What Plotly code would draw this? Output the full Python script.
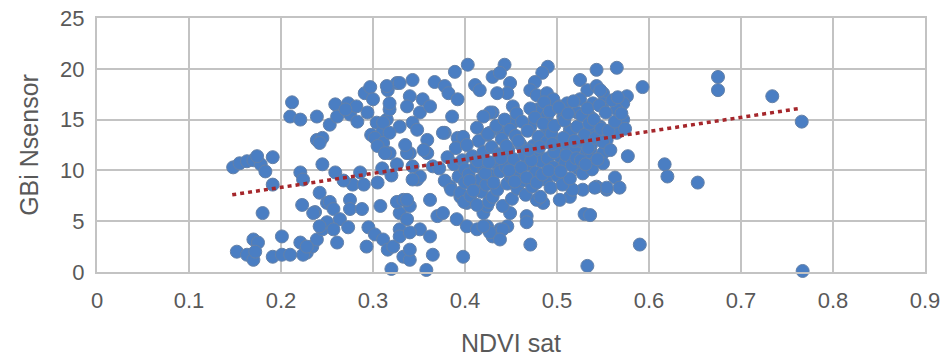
import plotly.graph_objects as go

# ---- data ----
ndvi_sat = [
    # left group
    0.148, 0.155, 0.163, 0.170, 0.178, 0.183, 0.174, 0.191, 0.191, 0.180,
    0.152, 0.163, 0.170, 0.170, 0.175, 0.172, 0.191, 0.201, 0.201, 0.210,
    # 0.2 - 0.3
    0.221, 0.224, 0.223, 0.237, 0.242, 0.245, 0.239, 0.221, 0.228, 0.234,
    0.239, 0.245, 0.250, 0.250, 0.212, 0.210, 0.221, 0.239, 0.245, 0.253,
    0.259, 0.261, 0.273, 0.275, 0.282, 0.291, 0.297, 0.300, 0.242, 0.259,
    0.278, 0.253, 0.224, 0.235, 0.257, 0.275, 0.275, 0.288, 0.264, 0.242,
    0.257, 0.273, 0.261, 0.228, 0.295, 0.293, 0.268, 0.290, 0.283, 0.294,
    0.298, 0.270, 0.286,
    # 0.3 - 0.37
    0.304, 0.310, 0.315, 0.302, 0.311, 0.316, 0.326, 0.318, 0.318, 0.308,
    0.302, 0.311, 0.316, 0.322, 0.320, 0.333, 0.340, 0.329, 0.337, 0.340,
    0.326, 0.333, 0.329, 0.329, 0.305, 0.305, 0.313, 0.326, 0.340, 0.343,
    0.348, 0.315, 0.329, 0.343, 0.367, 0.340, 0.354, 0.318, 0.337, 0.351,
    0.362, 0.311, 0.329, 0.343, 0.348, 0.318, 0.359, 0.337, 0.359, 0.351,
    0.362, 0.337, 0.370, 0.351, 0.340, 0.362, 0.340, 0.365, 0.358, 0.335,
    0.365, 0.355, 0.320, 0.310,
    # 0.37 - 0.45 upper
    0.403, 0.389, 0.378, 0.382, 0.392, 0.386, 0.378, 0.411, 0.416, 0.430,
    0.430, 0.413, 0.424, 0.392, 0.376, 0.398, 0.443, 0.438, 0.449, 0.446,
    0.435, 0.427, 0.452, 0.452, 0.420, 0.427, 0.441,
    # 0.37 - 0.45 lower
    0.376, 0.343, 0.398, 0.391, 0.402, 0.413, 0.424, 0.430, 0.438, 0.446,
    0.420, 0.449, 0.395, 0.402, 0.384, 0.424, 0.427, 0.441, 0.438, 0.420,
    # 0.46 - 0.6
    0.490, 0.484, 0.476, 0.471, 0.478, 0.489, 0.496, 0.478, 0.489, 0.503,
    0.511, 0.507, 0.543, 0.525, 0.533, 0.543, 0.550, 0.525, 0.539, 0.522,
    0.536, 0.471, 0.489, 0.514, 0.536, 0.547, 0.467, 0.467, 0.471, 0.530,
    0.533, 0.514, 0.528, 0.543, 0.554, 0.539, 0.536, 0.550, 0.485, 0.478,
    0.503, 0.517, 0.565, 0.593, 0.576, 0.572, 0.565, 0.554, 0.577, 0.550,
    0.563, 0.568, 0.554, 0.541, 0.590, 0.536, 0.572, 0.565, 0.547, 0.550,
    # right outliers
    0.617, 0.620, 0.653, 0.675, 0.675, 0.734, 0.766, 0.767,
    # dense core
    0.372, 0.378, 0.381, 0.385, 0.388, 0.390, 0.393, 0.395, 0.397, 0.399,
    0.400, 0.400, 0.402, 0.404, 0.406, 0.408, 0.410, 0.412, 0.413, 0.415,
    0.417, 0.418, 0.420, 0.421, 0.423, 0.425, 0.426, 0.428, 0.429, 0.430,
    0.432, 0.434, 0.435, 0.437, 0.438, 0.440, 0.441, 0.443, 0.444, 0.446,
    0.447, 0.449, 0.450, 0.451, 0.453, 0.455, 0.456, 0.457, 0.459, 0.460,
    0.462, 0.463, 0.465, 0.466, 0.468, 0.470, 0.471, 0.473, 0.474, 0.476,
    0.477, 0.479, 0.480, 0.482, 0.483, 0.485, 0.486, 0.488, 0.489, 0.490,
    0.492, 0.493, 0.494, 0.496, 0.497, 0.499, 0.500, 0.502, 0.503, 0.505,
    0.506, 0.508, 0.509, 0.511, 0.512, 0.514, 0.515, 0.517, 0.518, 0.520,
    0.522, 0.523, 0.525, 0.527, 0.528, 0.530, 0.532, 0.533, 0.535, 0.537,
    0.538, 0.540, 0.542, 0.544, 0.546, 0.548, 0.550, 0.553, 0.556, 0.558,
    0.560, 0.563, 0.566, 0.570, 0.574,
    # extra core fill
    0.405, 0.414, 0.422, 0.431, 0.439, 0.448, 0.454, 0.461, 0.467, 0.472,
    0.478, 0.484, 0.491, 0.497, 0.504, 0.510, 0.516, 0.521, 0.526, 0.531,
    0.445, 0.458, 0.469, 0.481, 0.495, 0.507, 0.519, 0.534, 0.409, 0.426,
]

gbi_nsensor = [
    # left group
    10.3, 10.7, 10.9, 11.0, 10.6, 9.9, 11.4, 11.3, 8.6, 5.8,
    2.0, 1.7, 1.2, 3.2, 2.9, 2.0, 1.5, 1.7, 3.5, 1.7,
    # 0.2 - 0.3
    9.8, 9.1, 6.6, 5.9, 7.8, 10.6, 13.0, 2.9, 1.9, 2.5,
    3.2, 4.2, 4.9, 6.8, 16.7, 15.3, 15.0, 15.3, 13.2, 14.5,
    16.5, 15.3, 16.6, 15.5, 16.3, 17.6, 18.2, 17.0, 12.7, 9.8,
    8.6, 6.9, 1.7, 5.8, 6.2, 7.1, 6.2, 6.2, 5.2, 4.5,
    4.2, 4.4, 2.9, 2.5, 4.4, 2.5, 9.0, 8.6, 14.8, 15.7,
    13.5, 16.0, 9.8,
    # 0.3 - 0.37
    14.7, 13.8, 15.0, 13.2, 12.7, 17.9, 18.6, 11.7, 16.0, 6.5,
    3.7, 3.2, 2.2, 2.5, 0.3, 1.5, 1.2, 5.8, 5.2, 6.5,
    6.9, 7.1, 4.2, 3.5, 8.8, 12.4, 11.7, 10.6, 11.7, 10.4,
    9.1, 18.3, 18.6, 18.9, 18.7, 17.3, 17.0, 16.6, 16.3, 15.7,
    16.3, 14.7, 14.3, 14.7, 14.0, 13.7, 13.0, 11.7, 11.7, 9.4,
    7.1, 7.1, 5.5, 4.2, 3.9, 3.5, 2.2, 1.7, 0.2, 12.5,
    10.4, 12.0, 9.5, 10.2,
    # 0.37 - 0.45 upper
    20.4, 19.7, 18.3, 17.6, 17.0, 15.3, 13.7, 18.4, 17.9, 19.2,
    15.7, 14.2, 13.5, 13.2, 13.7, 13.3, 20.4, 19.6, 18.6, 17.6,
    17.6, 15.7, 16.3, 14.7, 15.3, 13.7, 13.7,
    # 0.37 - 0.45 lower
    5.8, 9.1, 1.5, 5.2, 4.5, 4.2, 4.5, 3.5, 4.2, 4.5,
    5.8, 5.8, 7.4, 6.8, 8.4, 6.5, 3.9, 4.2, 3.2, 4.5,
    # 0.46 - 0.6
    20.2, 19.6, 18.7, 17.9, 17.4, 17.6, 17.0, 16.0, 15.3, 16.3,
    16.6, 15.3, 19.9, 18.9, 17.9, 18.3, 17.6, 17.0, 16.6, 15.7,
    15.3, 14.3, 13.7, 14.0, 14.0, 14.3, 5.5, 4.9, 2.7, 5.7,
    0.6, 7.4, 8.1, 8.4, 8.1, 10.9, 12.0, 11.7, 6.8, 7.1,
    7.1, 8.1, 20.1, 18.2, 17.3, 15.0, 13.7, 13.0, 11.4, 10.7,
    9.3, 8.3, 8.3, 8.3, 2.7, 5.6, 16.6, 16.0, 17.9, 16.6,
    # right outliers
    10.6, 9.4, 8.8, 19.2, 17.9, 17.3, 14.8, 0.1,
    # dense core
    10.2, 9.0, 11.3, 8.1, 10.6, 12.2, 9.4, 7.8, 11.0, 6.9,
    8.8, 10.1, 12.5, 9.6, 7.5, 11.4, 8.3, 10.4, 6.6, 12.9,
    9.1, 7.9, 11.8, 10.0, 8.6, 13.6, 6.9, 9.5, 12.3, 7.4,
    10.8, 14.4, 8.1, 11.6, 9.9, 13.1, 6.5, 15.0, 10.4, 8.7,
    12.0, 14.0, 9.4, 7.2, 11.1, 13.4, 15.6, 8.2, 10.0, 12.6,
    14.8, 9.0, 11.5, 7.6, 13.9, 10.6, 16.1, 8.4, 12.4, 15.2,
    9.8, 11.9, 13.3, 7.4, 10.9, 14.6, 16.7, 9.1, 12.8, 11.2,
    15.8, 8.3, 13.6, 10.3, 14.4, 12.1, 9.5, 16.2, 11.4, 13.0,
    8.6, 14.9, 10.7, 12.6, 15.6, 9.2, 13.8, 11.0, 16.8, 12.3,
    14.3, 10.2, 12.9, 15.4, 9.7, 13.5, 11.7, 16.1, 14.6, 12.5,
    10.1, 15.0, 13.2, 11.1, 16.4, 14.1, 12.8, 15.7, 13.9, 12.0,
    16.9, 14.8, 17.2, 15.6, 14.1,
    # extra core fill
    9.0, 10.9, 9.7, 8.8, 11.2, 10.0, 8.9, 10.3, 9.3, 11.0,
    8.8, 9.6, 10.0, 11.8, 9.9, 11.5, 10.5, 11.2, 11.0, 10.6,
    12.4, 12.9, 12.0, 12.3, 12.6, 13.2, 12.9, 12.2, 8.0, 10.8,
]

trend_x = [0.147, 0.764]
trend_y = [7.6, 16.1]

x_ticks = [0, 0.1, 0.2, 0.3, 0.4, 0.5, 0.6, 0.7, 0.8, 0.9]
y_ticks = [0, 5, 10, 15, 20, 25]

x_title = "NDVI sat"
y_title = "GBi Nsensor"

# ---- figure ----
grid = "#c3c3c3"
txt = "#595959"
font_family = "Liberation Sans, Arial, sans-serif"

fig = go.Figure()
fig.add_trace(go.Scatter(
    x=ndvi_sat, y=gbi_nsensor, mode="markers",
    marker=dict(size=13, color="#4a7ec3", line=dict(width=1, color="#6481a8")),
    cliponaxis=False, showlegend=False,
))
fig.add_trace(go.Scatter(
    x=trend_x, y=trend_y, mode="lines",
    line=dict(color="#a5262b", width=3.5, dash="4px,4px"),
    showlegend=False,
))

fig.update_layout(
    width=942, height=358,
    margin=dict(l=97, r=17, t=18, b=86),
    paper_bgcolor="white", plot_bgcolor="white",
    font=dict(family=font_family, color=txt),
)
fig.update_xaxes(
    range=[0, 0.9], tickvals=x_ticks,
    ticktext=[f"{v:g}" for v in x_ticks],
    showgrid=True, gridcolor=grid, gridwidth=2,
    showline=True, linecolor=grid, linewidth=2, mirror=True,
    zeroline=False, ticks="", ticklabelstandoff=8, automargin=False,
    tickfont=dict(size=22, color=txt),
    title=dict(text=x_title, font=dict(size=25, color=txt), standoff=22),
)
fig.update_yaxes(
    range=[0, 25], tickvals=y_ticks,
    showgrid=True, gridcolor=grid, gridwidth=2,
    showline=True, linecolor=grid, linewidth=2, mirror=True,
    zeroline=False, ticks="", ticklabelstandoff=6, automargin=False,
    tickfont=dict(size=22, color=txt),
    title=dict(text=y_title, font=dict(size=25, color=txt), standoff=14),
)

fig.write_html("out.html")
